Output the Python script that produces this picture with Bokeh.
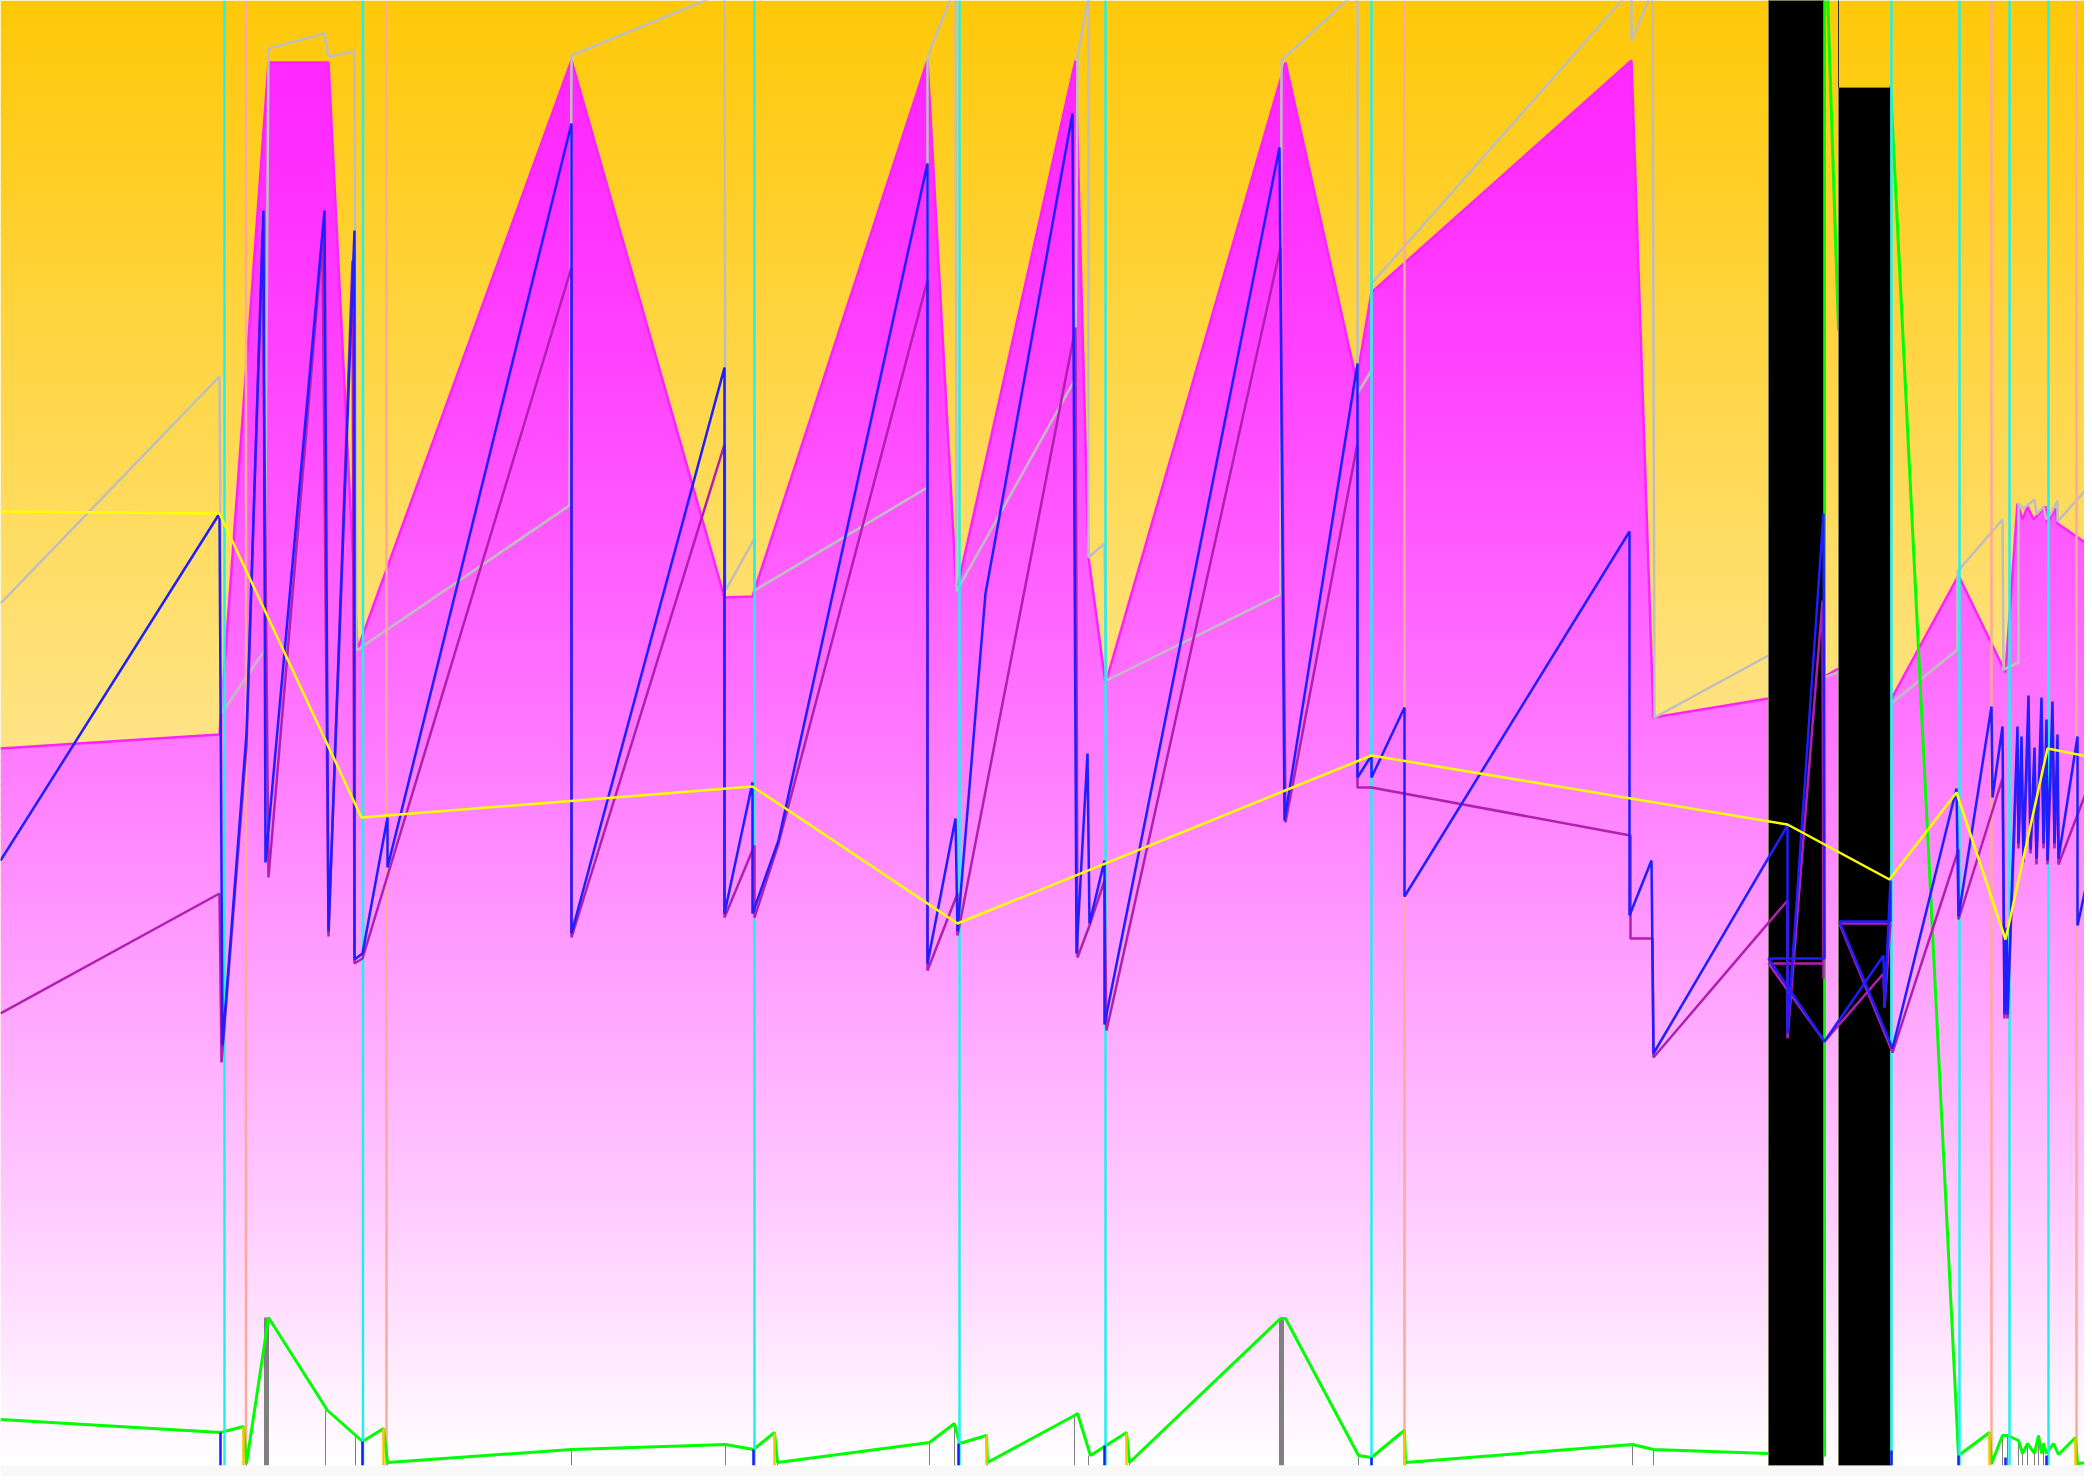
from bokeh.plotting import figure
from bokeh.models import Range1d
from bokeh.embed import file_html
from bokeh.resources import INLINE

env_x = [0, 219, 268, 328, 357, 571, 724, 752, 927, 956, 1075, 1088, 1105, 1285, 1356, 1371, 1631, 1653,
         1768, 1824, 1838, 1890, 1958, 2005, 2017, 2022, 2027, 2033, 2045, 2047, 2055, 2057, 2092]
env_y = [748, 734, 62, 62, 649, 60, 597, 596, 60, 591, 60, 557, 683, 62, 380, 292, 60, 717,
         698, 676, 668, 700, 575, 672, 503, 519, 506, 519, 506, 523, 508, 523, 547]

gray_x = [0, 219, 221, 264, 268, 324, 328, 354, 356, 569, 571, 724, 725, 754, 754, 927, 927, 955, 956,
          1075, 1077, 1088, 1088, 1104, 1106, 1280, 1281, 1357, 1357, 1371, 1371, 1631, 1631, 1652, 1654,
          1768, 1824, 1837, 1892, 1957, 1957, 2002, 2003, 2018, 2018, 2023, 2028, 2034, 2036, 2043, 2046,
          2050, 2057, 2057, 2092]
gray_y = [603, 376, 713, 650, 48, 33, 56, 51, 650, 505, 55, -8, 590, 538, 590, 487, 57, -15, 591,
          378, 55, -3, 557, 543, 680, 594, 60, -10, 393, 370, 283, -11, 40, -10, 717,
          655, 677, 672, 702, 649, 571, 519, 669, 662, 503, 508, 504, 499, 514, 506, 519,
          514, 500, 521, 482]

blue_x = [0, 219, 222, 246, 263, 265, 324, 328, 354, 354, 362, 387, 387, 571, 571, 724, 724, 752, 752,
          778, 927, 927, 955, 957, 985, 1072, 1076, 1087, 1089, 1104, 1104, 1279, 1284, 1357, 1357,
          1371, 1371, 1404, 1404, 1629, 1629, 1651, 1653, 1787, 1787, 1823, 1824, 1768, 1824, 1883,
          1884, 1890, 1890, 1839, 1892, 1956, 1958, 1991, 1992, 2002, 2004, 2006, 2007, 2017, 2018,
          2021, 2023, 2028, 2030, 2034, 2036, 2041, 2043, 2046, 2047, 2052, 2054, 2057, 2058, 2077,
          2077, 2092]
blue_y = [860, 513, 1045, 733, 210, 862, 210, 931, 230, 959, 953, 817, 867, 123, 933, 367, 913, 782, 913,
          840, 163, 963, 818, 931, 593, 113, 953, 753, 923, 860, 1024, 147, 820, 363, 777,
          755, 777, 707, 896, 531, 915, 860, 1053, 825, 1033, 513, 958, 958, 1041, 955,
          1007, 880, 921, 921, 1048, 788, 916, 706, 797, 726, 1014, 927, 1014, 726, 843,
          736, 856, 695, 849, 747, 858, 697, 843, 719, 860, 701, 843, 734, 858, 736,
          925, 856]

purple_x = [0, 219, 221, 246, 262, 268, 322, 328, 352, 354, 362, 571, 571, 724, 724, 754, 754, 778, 927,
            927, 957, 957, 1075, 1077, 1089, 1104, 1106, 1280, 1285, 1357, 1357, 1371, 1630, 1630,
            1652, 1653, 1787, 1787, 1822, 1823, 1823, 1768, 1824, 1883, 1884, 1890, 1839, 1892, 1958,
            1958, 2002, 2004, 2006, 2007, 2017, 2018, 2021, 2023, 2028, 2030, 2034, 2036, 2041, 2043,
            2046, 2047, 2052, 2054, 2057, 2058, 2092]
purple_y = [1013, 893, 1062, 745, 230, 877, 240, 936, 260, 963, 958, 267, 937, 444, 917, 845, 917, 843, 280,
            970, 893, 935, 327, 957, 925, 880, 1030, 247, 822, 443, 787, 787, 835, 938,
            938, 1057, 900, 1038, 600, 978, 963, 963, 1041, 973, 1007, 923, 923, 1052, 849,
            919, 778, 1018, 935, 1018, 745, 848, 760, 862, 720, 853, 770, 864, 720, 848,
            745, 864, 725, 848, 760, 864, 775]

yellow_x = [0, 219, 361, 752, 957, 1371, 1787, 1889, 1956, 2005, 2047, 2092]
yellow_y = [511, 513, 817, 786, 923, 755, 824, 879, 792, 939, 748, 757]

green_x = [0, 220, 243, 246, 268, 327, 362, 383, 387, 571, 725, 753, 774, 777, 929, 954, 959, 986, 987,
           1074, 1077, 1090, 1126, 1129, 1280, 1285, 1358, 1371, 1400, 1404, 1405, 1632, 1653, 1768,
           1824, 1824, 1838, 1890, 1958, 1989, 1991, 2002, 2007, 2018, 2022, 2027, 2034, 2038, 2041,
           2043, 2046, 2053, 2058, 2075, 2077, 2092]
green_y = [1419, 1432, 1426, 1463, 1317, 1410, 1441, 1428, 1462, 1449, 1444, 1449, 1432, 1462, 1442, 1423,
           1443, 1435, 1462, 1415, 1413, 1455, 1432, 1462, 1318, 1318, 1455, 1457, 1433, 1430, 1462,
           1444, 1449, 1453, 1455, -100, 330, 85, 1455, 1432, 1463, 1435, 1435, 1440, 1453, 1443,
           1453, 1435, 1453, 1443, 1453, 1443, 1454, 1437, 1463, 1462]

vol_x = [246, 266, 325, 355, 387, 571, 725, 777, 929, 954, 987, 1074, 1088, 1129, 1281, 1358, 1405,
         1632, 1653, 2002, 2007, 2018, 2022, 2027, 2034, 2038, 2043]
vol_top = [1458, 1317, 1410, 1435, 1460, 1449, 1444, 1460, 1442, 1423, 1460, 1415, 1455, 1460, 1318,
           1455, 1460, 1444, 1449, 1435, 1435, 1440, 1453, 1443, 1453, 1437, 1443]
vol_w = [1, 5, 1, 1, 1, 1, 1, 1, 1, 1, 1, 1, 1, 1, 5, 1, 1, 1, 1, 1, 1, 1, 1, 1, 1, 1, 1]

cyan_x = [224, 362.5, 754, 959, 1105, 1371, 1891, 1959, 2009, 2048]
salmon_x = [245.5, 386, 1404, 1991, 2076]

bluemark_x = [220, 362, 753, 958, 1104, 1371, 1891, 1958, 2005, 2046]
bluemark_top = [1432, 1441, 1449, 1443, 1445, 1457, 1450, 1455, 1457, 1455]
orangemark_x = [243, 383, 774, 986, 1126, 1404, 1989, 2075]
orangemark_top = [1426, 1428, 1432, 1435, 1432, 1430, 1432, 1437]

bar_left = [1768, 1838]
bar_right = [1823, 1890]
bar_top = [-20, 87]
wick_x = [1838]
wick_top = [-20]
wick_bottom = [87]

X0, X1 = 0, 2092
Y_TOP, Y_BOT = 0, 1465

# ---- figure ----
p = figure(width=2084, height=1476, x_range=Range1d(0, 2084), y_range=Range1d(Y_BOT, Y_TOP),
           output_backend="svg", toolbar_location=None, x_axis_type=None, y_axis_type=None,
           min_border=0, min_border_bottom=11, border_fill_color="#f8f8f8",
           outline_line_color=None, background_fill_color="white")


def lerp(c0, c1, t):
    return "#%02x%02x%02x" % tuple(int(round(a + (b - a) * t)) for a, b in zip(c0, c1))


def band_poly(xs, ys, a, b):
    px, py = [], []
    for i in range(len(xs) - 1):
        x0, y0, x1, y1 = xs[i], ys[i], xs[i + 1], ys[i + 1]
        px.append(x0); py.append(y0)
        cuts = []
        for c in (a, b):
            if (y0 - c) * (y1 - c) < 0:
                t = (c - y0) / (y1 - y0)
                cuts.append((t, x0 + t * (x1 - x0), c))
        for t, cx, cy in sorted(cuts):
            px.append(cx); py.append(cy)
    px.append(xs[-1]); py.append(ys[-1])
    py = [min(max(v, a), b) for v in py]
    return px + [xs[-1], xs[0]], py + [b, b]


step = 8
bands = list(range(Y_TOP, Y_BOT, step))
yel_top, yel_bot = (255, 200, 8), (255, 255, 255)
mag_top, mag_bot = (255, 40, 255), (255, 255, 255)
env_top = min(env_y)

bg_cols, bg_t, bg_b = [], [], []
m_xs, m_ys, m_cols = [], [], []
for a in bands:
    b = min(a + step + 1, Y_BOT)
    yc = a + step / 2
    t = (yc - Y_TOP) / (Y_BOT - Y_TOP)
    bg_cols.append(lerp(yel_top, yel_bot, t)); bg_t.append(a); bg_b.append(b)
    tm = max(0.0, (yc - env_top) / (Y_BOT - env_top)) ** 1.35
    xs, ys = band_poly(env_x, env_y, a, b)
    m_xs.append(xs); m_ys.append(ys); m_cols.append(lerp(mag_top, mag_bot, tm))

p.quad(left=X0, right=X1, top=bg_t, bottom=bg_b, fill_color=bg_cols, line_color=None)
p.patches(xs=m_xs, ys=m_ys, fill_color=m_cols, line_color=None)
p.line(env_x, env_y, line_color="#ff22ff", line_width=2.5)

p.line(gray_x, gray_y, line_color="#bebebe", line_width=2.5)

p.segment(x0=salmon_x, y0=Y_TOP, x1=salmon_x, y1=Y_BOT, line_color="#ffa89c", line_width=2.5)

p.vbar(x=vol_x, width=vol_w, top=vol_top, bottom=Y_BOT, fill_color="#808080", line_color=None)
p.line(green_x, green_y, line_color="#00ff00", line_width=3)

p.quad(left=bar_left, right=bar_right, top=bar_top, bottom=Y_BOT, fill_color="black",
       line_color="#7a7a60", line_width=1)
p.segment(x0=wick_x, y0=wick_top, x1=wick_x, y1=wick_bottom, line_color="#333333", line_width=1)

p.segment(x0=cyan_x, y0=Y_TOP, x1=cyan_x, y1=Y_BOT, line_color="#1ff0f0", line_width=2.5)

p.line(purple_x, purple_y, line_color="#b020b0", line_width=2.5)
p.line(blue_x, blue_y, line_color="#1e1eff", line_width=2.5)
p.line(yellow_x, yellow_y, line_color="#ffff00", line_width=2.5)

p.vbar(x=bluemark_x, width=2.5, top=bluemark_top, bottom=Y_BOT, fill_color="#1a1aff", line_color=None)
p.vbar(x=orangemark_x, width=2.5, top=orangemark_top, bottom=Y_BOT, fill_color="#ffc000", line_color=None)

open("out.html", "w").write(file_html(p, INLINE))
